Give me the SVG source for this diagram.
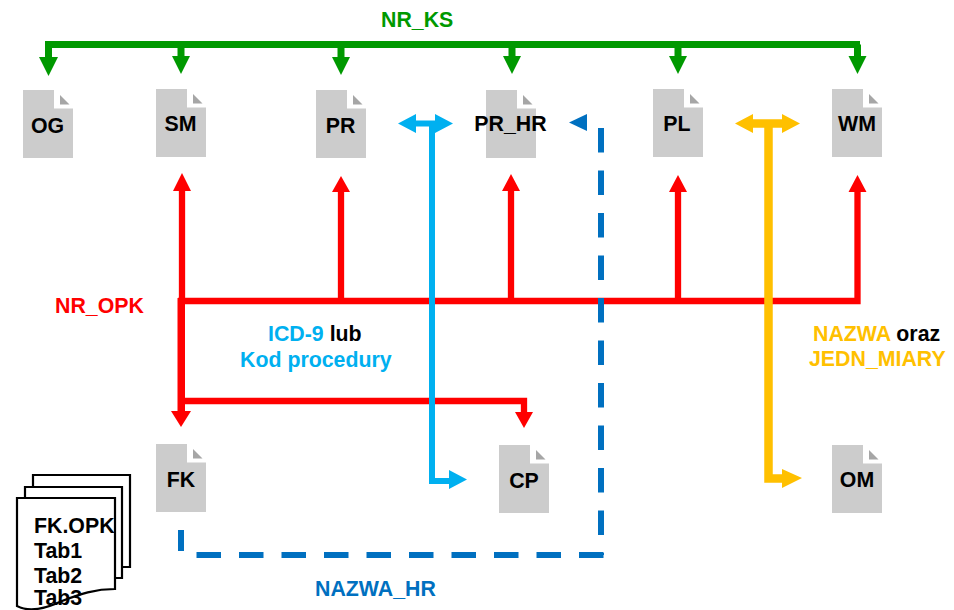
<svg xmlns="http://www.w3.org/2000/svg" width="954" height="610" viewBox="0 0 954 610">
<style>
text{font-family:"Liberation Sans",Arial,sans-serif;font-weight:700;font-size:21.330px}
.n{fill:#000;text-anchor:middle}
.body{fill:#ccc}
.fold{fill:#a6a6a6}
.g{stroke:#009900;fill:none;stroke-width:7}
.r{stroke:#ff0000;fill:none;stroke-width:6.300}
.b{stroke:#00b0f0;fill:none;stroke-width:6}
.y{stroke:#ffc000;fill:none;stroke-width:8.500}
.d{stroke:#0070c0;fill:none;stroke-width:6;stroke-dasharray:24.500 18}
.sheet{fill:#fff;stroke:#000;stroke-width:2.200}
</style>
<defs>
<g id="doc"><path class="body" d="M0 0H31V18.500H50V68H0Z"/><path class="fold" d="M37 5V14.500H46.500Z"/></g>
</defs>
<g id="connectors">
<path class="g" d="M860 44.500H48.500V58M181 44.500V58M341 44.500V58M512 44.500V58M678 44.500V58M857.500 44.500V58"/>
<path fill="#009900" d="M39 57H58L48.500 76ZM172 56H190L181 74ZM332 57H350L341 75ZM503 56H521L512 74ZM669 56H687L678 74ZM848.500 56H866.500L857.500 74Z"/>
<path class="r" d="M182 190V301M178 301H857.500V190M341 301V190M511 301V190M678 301V190M181 401H524V414"/>
<path fill="#ff0000" d="M177.500 298H185V412H177.500Z"/>
<path fill="#ff0000" d="M182 173L191 191H173ZM341 176L350 192H332ZM511 174L520 191H502ZM678 175L687 192H669ZM857.500 175L866.500 192H848.500ZM171 411H191L181 427ZM515 412H533L524 428Z"/>
<path class="b" d="M414 123.500H437M432 123.500V481H451"/>
<path fill="#00b0f0" d="M398 123.500L416 114V133ZM453 123.500L435 114V133ZM467 479.500L449 470V489Z"/>
<path class="y" d="M752 123.500H785M768.500 123.500V478.500H786"/>
<path fill="#ffc000" d="M735 123.500L753 114V133ZM800 123.500L782 114V133ZM802 478L782 469V488Z"/>
<path class="d" d="M601 128V555"/>
<path class="d" d="M603.500 555H195"/>
<path stroke="#0070c0" stroke-width="6" fill="none" d="M181 530V551"/>
<path fill="#0070c0" d="M569 122.500L587 114V131Z"/>
</g>
<g id="OG"><use href="#doc" x="23" y="90"/><text class="n" x="47.500" y="133">OG</text></g>
<g id="SM"><use href="#doc" x="156" y="89"/><text class="n" x="180.500" y="131">SM</text></g>
<g id="PR"><use href="#doc" x="316" y="90"/><text class="n" x="340.500" y="133">PR</text></g>
<g id="PR_HR"><use href="#doc" x="486" y="90"/><text class="n" x="510.500" y="131">PR_HR</text></g>
<g id="PL"><use href="#doc" x="653" y="89"/><text class="n" x="677" y="131">PL</text></g>
<g id="WM"><use href="#doc" x="832" y="89"/><text class="n" x="857" y="131">WM</text></g>
<g id="FK"><use href="#doc" x="156" y="444"/><text class="n" x="181" y="487">FK</text></g>
<g id="CP"><use href="#doc" x="499" y="445"/><text class="n" x="524" y="488">CP</text></g>
<g id="OM"><use href="#doc" x="832" y="445"/><text class="n" x="857" y="487">OM</text></g>
<g id="stack">
<path class="sheet" d="M33 475H130V567H33Z"/>
<path class="sheet" d="M25 487H122V578H25Z"/>
<path class="sheet" d="M17 498H115V589C95 589 80 594 62 601C45 609 28 612 17 606Z"/>
<text x="34" y="533">FK.OPK</text>
<text x="34" y="558">Tab1</text>
<text x="34" y="583">Tab2</text>
<text x="34" y="605">Tab3</text>
</g>
<g id="labels">
<text x="381" y="27" fill="#009900">NR_KS</text>
<text x="55" y="313" fill="#ff0000">NR_OPK</text>
<text x="268" y="341"><tspan fill="#00b0f0">ICD-9</tspan> lub</text>
<text x="240" y="367" fill="#00b0f0">Kod procedury</text>
<text x="813" y="341"><tspan fill="#ffc000">NAZWA</tspan> oraz</text>
<text x="809" y="366" fill="#ffc000">JEDN_MIARY</text>
<text x="315" y="596" fill="#0070c0">NAZWA_HR</text>
</g>
</svg>
